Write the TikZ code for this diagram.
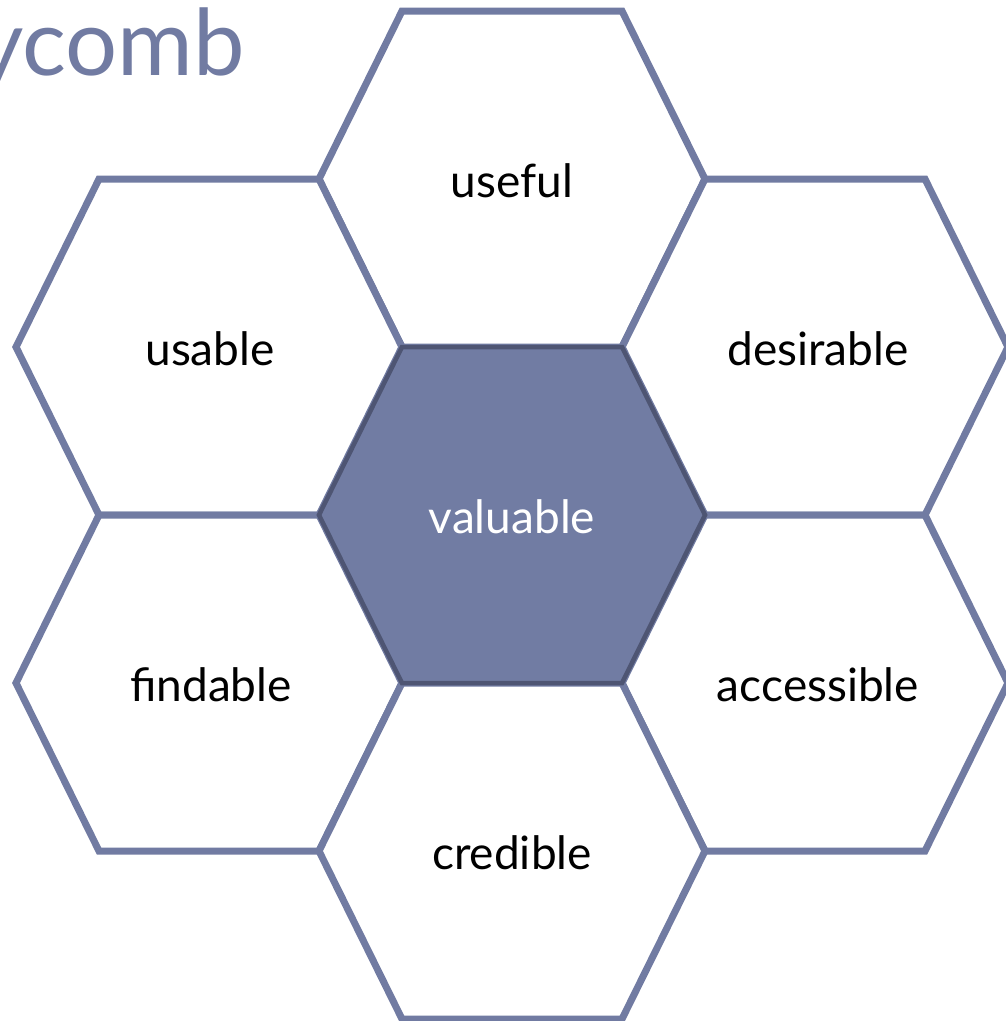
\documentclass[tikz,border=0pt]{standalone}
\usepackage{fontspec}
\setmainfont{Lato}
\definecolor{hexline}{HTML}{717BA2}
\definecolor{hexfill}{HTML}{717CA3}
\definecolor{hexdark}{HTML}{4E5573}
\begin{document}
\begin{tikzpicture}[x=1pt,y=-1pt,
  hexside/.style={draw=hexline,line width=7pt,line join=miter,fill=white},
  hexmid/.style={draw=hexdark,line width=4.5pt,line join=miter,fill=hexfill},
  lbl/.style={font=\fontsize{46}{54}\selectfont,text=black},
  lblw/.style={font=\fontsize{46}{54}\selectfont,text=white},
  ttl/.style={font=\fontsize{92}{100}\selectfont,text=hexline,anchor=base east,inner sep=0pt}]
\useasboundingbox (0,0) rectangle (1006,1021);
\newcommand{\hexat}[3]{%
  \draw[#3] (#1-110,#2-168) -- (#1+110,#2-168) -- (#1+193,#2) -- (#1+110,#2+168) -- (#1-110,#2+168) -- (#1-193,#2) -- cycle;}
\node[ttl] (title) at (245,75) {ycomb};
\hexat{512}{179}{hexside}
\hexat{209}{347}{hexside}
\hexat{815}{347}{hexside}
\hexat{209}{683}{hexside}
\hexat{815}{683}{hexside}
\hexat{512}{851}{hexside}
\hexat{512}{515}{hexmid}
\node[lbl] (useful) at (512,181) {useful};
\node[lbl] (usable) at (210,349) {usable};
\node[lbl] (desirable) at (818,349) {desirable};
\node[lblw] (valuable) at (512,517) {valuable};
\node[lbl] (findable) at (211,685) {findable};
\node[lbl] (accessible) at (818,685) {accessible};
\node[lbl] (credible) at (512,853) {credible};
\end{tikzpicture}
\end{document}
